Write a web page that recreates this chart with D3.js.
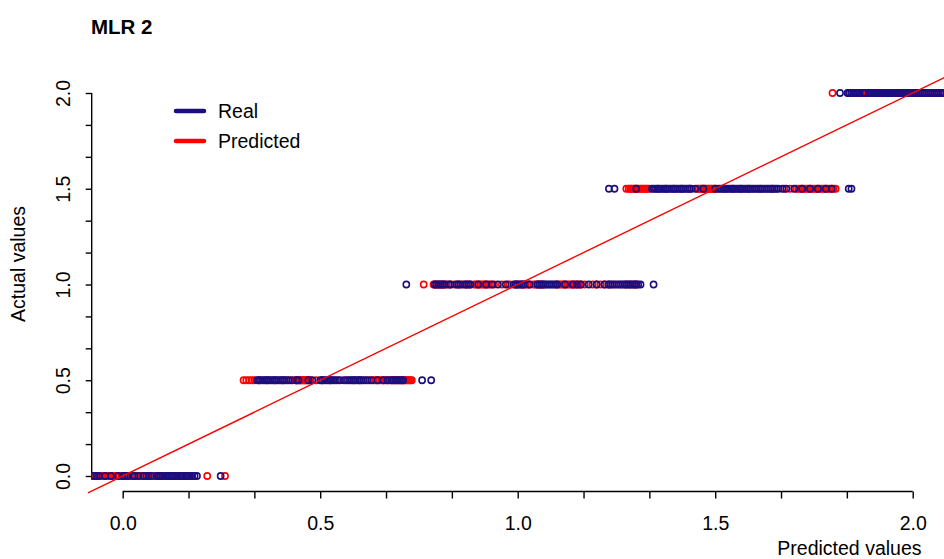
<!DOCTYPE html>
<html><head><meta charset="utf-8">
<script src="https://cdn.jsdelivr.net/npm/d3@7"></script>
<style>body{margin:0;background:#fff} svg{display:block;font-family:"Liberation Sans",Arial,sans-serif}</style>
</head><body><svg id="c" width="944" height="559"></svg>
<script>
// ---- data (x = predicted value, grouped by actual level) ----
const levels = [0, 0.5, 1, 1.5, 2];
const real0  = [-0.078,-0.072,-0.066,-0.06,-0.045,-0.03,-0.012,0.0,0.005,0.012,0.025,0.03,0.04,0.052,0.06,0.066,0.072,0.085,0.09,0.095,0.1,0.108,0.113,0.118,0.123,0.128,0.134,0.14,0.146,0.152,0.158,0.164,0.17,0.176,0.182,0.188,0.248];
const pred0  = [-0.07,-0.065,-0.055,-0.05,-0.045,-0.04,-0.035,-0.025,-0.018,-0.008,-0.003,0.005,0.01,0.015,0.02,0.025,0.03,0.035,0.045,0.05,0.055,0.065,0.078,0.09,0.095,0.102,0.112,0.117,0.122,0.127,0.133,0.138,0.15,0.16,0.175,0.214,0.259];
const real05 = [0.34,0.345,0.35,0.355,0.36,0.365,0.37,0.375,0.38,0.385,0.39,0.395,0.4,0.405,0.41,0.415,0.42,0.43,0.44,0.445,0.47,0.48,0.5,0.505,0.51,0.515,0.52,0.525,0.53,0.535,0.54,0.55,0.56,0.57,0.575,0.58,0.585,0.59,0.595,0.6,0.605,0.61,0.62,0.63,0.645,0.66,0.67,0.68,0.685,0.69,0.695,0.7,0.705,0.71,0.758,0.781];
const pred05 = [0.306,0.313,0.32,0.327,0.333,0.345,0.365,0.385,0.405,0.425,0.438,0.44,0.443,0.448,0.45,0.452,0.455,0.458,0.46,0.462,0.465,0.468,0.472,0.475,0.49,0.505,0.525,0.545,0.565,0.585,0.6,0.615,0.625,0.635,0.64,0.645,0.65,0.655,0.66,0.665,0.67,0.675,0.68,0.685,0.69,0.695,0.7,0.705,0.708,0.712,0.715,0.718,0.722,0.725,0.728,0.732];
const real10 = [0.718,0.79,0.795,0.8,0.805,0.81,0.815,0.825,0.83,0.845,0.85,0.855,0.865,0.87,0.875,0.88,0.9,0.92,0.935,0.95,0.97,0.99,0.995,1.0,1.005,1.01,1.015,1.03,1.05,1.055,1.06,1.065,1.07,1.075,1.08,1.085,1.09,1.095,1.1,1.12,1.14,1.15,1.16,1.18,1.2,1.22,1.23,1.235,1.24,1.245,1.255,1.26,1.265,1.27,1.275,1.28,1.285,1.29,1.295,1.3,1.305,1.311,1.344];
const pred10 = [0.762,0.787,0.79,0.795,0.8,0.805,0.81,0.815,0.82,0.83,0.84,0.85,0.86,0.87,0.88,0.89,0.895,0.9,0.905,0.91,0.915,0.92,0.925,0.93,0.94,0.96,0.975,0.98,0.995,1.0,1.01,1.015,1.02,1.025,1.03,1.04,1.045,1.05,1.055,1.06,1.065,1.1,1.105,1.11,1.115,1.12,1.125,1.13,1.135,1.14,1.145,1.15,1.155,1.16,1.17,1.19,1.2,1.21,1.22,1.23,1.25,1.275,1.285,1.295,1.3];
const real15 = [1.231,1.245,1.3,1.34,1.345,1.35,1.355,1.36,1.365,1.37,1.375,1.38,1.385,1.39,1.395,1.4,1.405,1.41,1.415,1.42,1.425,1.43,1.435,1.44,1.45,1.47,1.5,1.51,1.515,1.52,1.525,1.53,1.535,1.54,1.545,1.55,1.555,1.56,1.565,1.57,1.575,1.58,1.585,1.59,1.595,1.6,1.605,1.61,1.615,1.62,1.625,1.63,1.635,1.64,1.645,1.65,1.655,1.66,1.67,1.68,1.7,1.72,1.74,1.76,1.78,1.795,1.838,1.845];
const pred15 = [1.275,1.281,1.285,1.288,1.292,1.295,1.298,1.302,1.305,1.31,1.314,1.318,1.322,1.325,1.329,1.333,1.355,1.375,1.395,1.415,1.435,1.455,1.458,1.462,1.465,1.468,1.472,1.475,1.478,1.482,1.486,1.49,1.493,1.497,1.5,1.505,1.525,1.545,1.565,1.585,1.615,1.645,1.675,1.69,1.705,1.71,1.715,1.72,1.725,1.73,1.735,1.74,1.745,1.75,1.755,1.76,1.765,1.77,1.775,1.78,1.785,1.79,1.795,1.8,1.805];
const real20 = [1.816,1.835,1.84,1.845,1.85,1.855,1.86,1.865,1.875,1.88,1.89,1.895,1.9,1.905,1.91,1.915,1.92,1.925,1.93,1.935,1.94,1.945,1.95,1.955,1.96,1.965,1.97,1.975,1.98,1.985,1.99,1.995,2.0,2.005,2.01,2.015,2.02,2.025,2.03,2.035,2.04,2.045,2.05,2.055,2.06,2.065,2.07,2.075,2.08];
const pred20 = [1.797,1.838,1.845,1.852,1.855,1.858,1.861,1.864,1.867,1.87,1.873,1.876,1.879,1.882,1.885,1.888,1.9,1.905,1.91,1.92,1.925,1.93,1.94,1.945,1.95,1.96,1.965,1.97,1.98,1.985,1.99,1.995,2.005,2.015,2.025,2.035,2.045,2.055,2.065,2.075];
const realSets = [real0, real05, real10, real15, real20];
const predSets = [pred0, pred05, pred10, pred15, pred20];
const tickVals = [0,1/6,2/6,0.5,4/6,5/6,1,7/6,8/6,1.5,10/6,11/6,2];
const tickLabels = ["0.0","0.5","1.0","1.5","2.0"];
const legendLabels = ["Real","Predicted"];
const colReal = "#1b0e7e", colPred = "#ff0000";

const svg = d3.select("#c");
const x = d3.scaleLinear().domain([0,2]).range([122.7,912.7]);
const y = d3.scaleLinear().domain([0,2]).range([476,93]);
const fmt = v => { const i = tickLabels.indexOf(v.toFixed(1)); return (Math.abs(v*2 - Math.round(v*2))<1e-6 && i>=0) ? tickLabels[i] : ""; };

svg.append("defs").append("clipPath").attr("id","pc").append("rect")
  .attr("x",91).attr("y",77).attr("width",860).attr("height",414.5);

// title
svg.append("text").attr("x",91).attr("y",34).attr("font-size",20.5).attr("font-weight","bold").text("MLR 2");

// axes
const gx = svg.append("g").attr("transform","translate(0,491.5)")
  .call(d3.axisBottom(x).tickValues(tickVals).tickSize(7).tickSizeOuter(0).tickFormat(fmt));
gx.selectAll("path,line").attr("stroke","#000").attr("stroke-width",1.4);
gx.selectAll("text").attr("font-size",19.5).attr("fill","#000").attr("font-family","Liberation Sans, Arial, sans-serif").attr("dy",null).attr("y",38);
gx.select(".domain").attr("d",`M${x(0)},0H${x(2)}`);

const gy = svg.append("g").attr("transform","translate(91.7,0)")
  .call(d3.axisLeft(y).tickValues(tickVals).tickSize(6).tickSizeOuter(0).tickFormat(fmt));
gy.selectAll("path,line").attr("stroke","#000").attr("stroke-width",1.4);
gy.select(".domain").attr("d",`M0,${y(2)}V${y(0)}`);
gy.selectAll("text").attr("font-size",19.5).attr("fill","#000").attr("font-family","Liberation Sans, Arial, sans-serif")
  .attr("x",null).attr("dy",null).attr("text-anchor","middle")
  .attr("transform","translate(-22,0) rotate(-90)").attr("y",0);

// axis titles
svg.append("text").attr("x",921.5).attr("y",555).attr("text-anchor","end").attr("font-size",19.5).text("Predicted values");
svg.append("text").attr("transform","translate(25,264) rotate(-90)").attr("text-anchor","middle").attr("font-size",19.5).text("Actual values");

// points
const plot = svg.append("g").attr("clip-path","url(#pc)");
predSets.forEach((arr,i) => {
  plot.append("g").selectAll("circle").data(arr).join("circle")
    .attr("cx",d=>x(d)).attr("cy",y(levels[i])).attr("r",3.1)
    .attr("fill","none").attr("stroke",colPred).attr("stroke-width",1.6);
});
realSets.forEach((arr,i) => {
  plot.append("g").selectAll("circle").data(arr).join("circle")
    .attr("cx",d=>x(d)).attr("cy",y(levels[i])).attr("r",3.1)
    .attr("fill","none").attr("stroke",colReal).attr("stroke-width",1.6);
});

// y = x line
svg.append("line").attr("x1",x(-0.088)).attr("y1",y(-0.088)).attr("x2",x(2.12)).attr("y2",y(2.12))
  .attr("stroke",colPred).attr("stroke-width",1.4);

// legend
const lg = svg.append("g");
[colReal,colPred].forEach((c,i)=>{
  lg.append("line").attr("x1",176).attr("x2",204).attr("y1",111+i*30).attr("y2",111+i*30)
    .attr("stroke",c).attr("stroke-width",4.5).attr("stroke-linecap","round");
  lg.append("text").attr("x",218).attr("y",117.5+i*30).attr("font-size",19.5).text(legendLabels[i]);
});
</script></body></html>
